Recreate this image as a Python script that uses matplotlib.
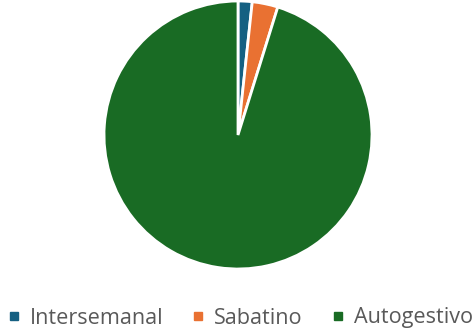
import matplotlib
matplotlib.use("Agg")
import matplotlib.pyplot as plt
from matplotlib.lines import Line2D

categories = ["Intersemanal", "Sabatino", "Autogestivo"]
values = [1.7, 3.1, 95.2]
colors = ["#156082", "#E97132", "#196B24"]

plt.rcParams['font.family'] = ['Open Sans', 'DejaVu Sans']
fig = plt.figure(figsize=(4.76, 3.32), dpi=100)
ax = fig.add_axes([(238-134)/476, 1-(135+134)/332, 268/476, 268/332])
ax.pie(values, colors=colors, startangle=90, counterclock=False,
       wedgeprops=dict(edgecolor="white", linewidth=2))
ax.set_aspect('equal')
ax.set_xlim(-1, 1); ax.set_ylim(-1, 1)

handles = [Line2D([0], [0], marker='s', linestyle='', markersize=5.5,
                  markerfacecolor=c, markeredgecolor=c) for c in colors]
fig.legend(handles, categories, loc='center', bbox_to_anchor=(240.5/476, 1-318/332),
           ncol=3, frameon=False, fontsize=15.6, labelcolor="#595959",
           handlelength=0.5, handletextpad=0.5, columnspacing=1.35,
           borderpad=0, borderaxespad=0)
fig.savefig("out.png", dpi=100)
